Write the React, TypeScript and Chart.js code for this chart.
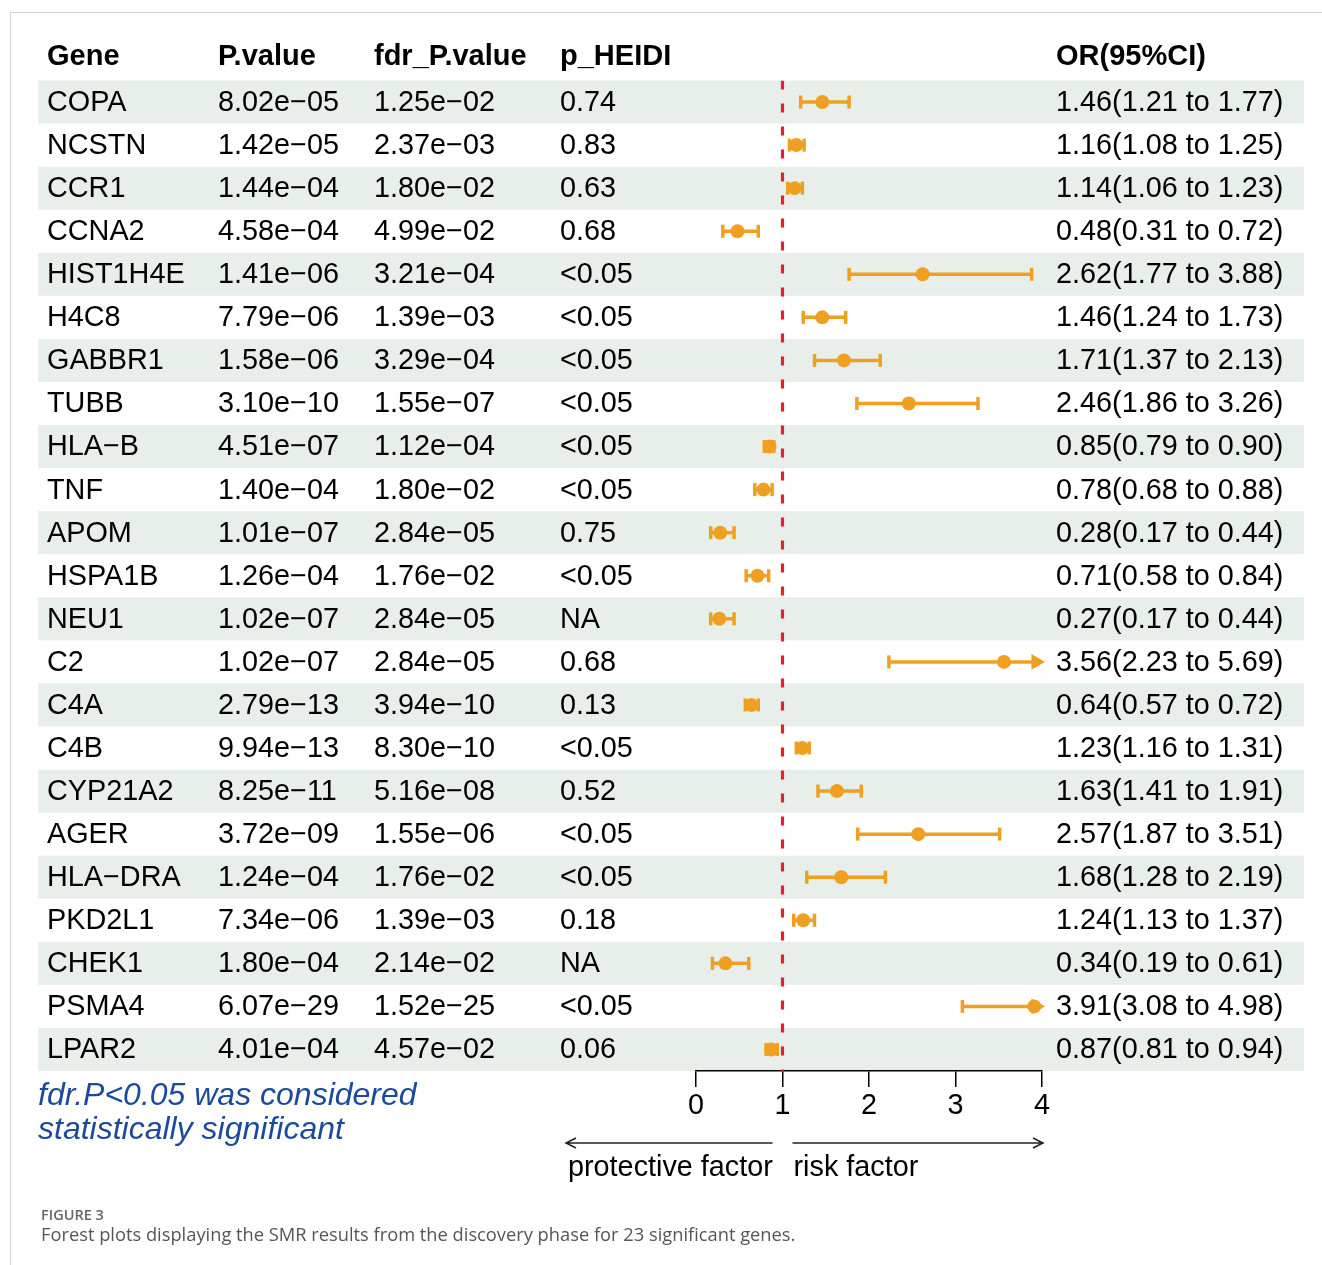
import React, { useEffect, useRef } from "react";
import { Chart, registerables } from "chart.js";

Chart.register(...registerables);

// ---------------- data ----------------
const genes = [
  "COPA", "NCSTN", "CCR1", "CCNA2", "HIST1H4E", "H4C8", "GABBR1", "TUBB",
  "HLA-B", "TNF", "APOM", "HSPA1B", "NEU1", "C2", "C4A", "C4B", "CYP21A2",
  "AGER", "HLA-DRA", "PKD2L1", "CHEK1", "PSMA4", "LPAR2",
];
const pValues = [
  "8.02e-05", "1.42e-05", "1.44e-04", "4.58e-04", "1.41e-06", "7.79e-06",
  "1.58e-06", "3.10e-10", "4.51e-07", "1.40e-04", "1.01e-07", "1.26e-04",
  "1.02e-07", "1.02e-07", "2.79e-13", "9.94e-13", "8.25e-11", "3.72e-09",
  "1.24e-04", "7.34e-06", "1.80e-04", "6.07e-29", "4.01e-04",
];
const fdrPValues = [
  "1.25e-02", "2.37e-03", "1.80e-02", "4.99e-02", "3.21e-04", "1.39e-03",
  "3.29e-04", "1.55e-07", "1.12e-04", "1.80e-02", "2.84e-05", "1.76e-02",
  "2.84e-05", "2.84e-05", "3.94e-10", "8.30e-10", "5.16e-08", "1.55e-06",
  "1.76e-02", "1.39e-03", "2.14e-02", "1.52e-25", "4.57e-02",
];
const pHeidi = [
  "0.74", "0.83", "0.63", "0.68", "<0.05", "<0.05", "<0.05", "<0.05",
  "<0.05", "<0.05", "0.75", "<0.05", "NA", "0.68", "0.13", "<0.05", "0.52",
  "<0.05", "<0.05", "0.18", "NA", "<0.05", "0.06",
];
const orValues = [
  1.46, 1.16, 1.14, 0.48, 2.62, 1.46, 1.71, 2.46, 0.85, 0.78, 0.28, 0.71,
  0.27, 3.56, 0.64, 1.23, 1.63, 2.57, 1.68, 1.24, 0.34, 3.91, 0.87,
];
const ciLower = [
  1.21, 1.08, 1.06, 0.31, 1.77, 1.24, 1.37, 1.86, 0.79, 0.68, 0.17, 0.58,
  0.17, 2.23, 0.57, 1.16, 1.41, 1.87, 1.28, 1.13, 0.19, 3.08, 0.81,
];
const ciUpper = [
  1.77, 1.25, 1.23, 0.72, 3.88, 1.73, 2.13, 3.26, 0.90, 0.88, 0.44, 0.84,
  0.44, 5.69, 0.72, 1.31, 1.91, 3.51, 2.19, 1.37, 0.61, 4.98, 0.94,
];
const headers = ["Gene", "P.value", "fdr_P.value", "p_HEIDI", "OR(95%CI)"];
const xTickValues = [0, 1, 2, 3, 4];
const refValue = 1;
const noteLines = ["fdr.P<0.05 was considered", "statistically significant"];
const directionLabels = ["protective factor", "risk factor"];

// ---------------- style ----------------
const X_MIN = xTickValues[0];
const X_MAX = xTickValues[xTickValues.length - 1];
const ORANGE = "#F0A020";
const RED = "#E3202C";
const STRIPE = "#E8EFEB";
const FONT = "'Liberation Sans', Arial, Helvetica, sans-serif";
const W = 1322;
const H = 1265;
const colX = [47, 218, 374, 560, 1056];
const ARROW_BACK = 0.07;
const ROW_FONT = 28.8;

const mm = (s: string) => s.replace(/-/g, "\u2212");

const tablePlugin = {
  id: "forestTable",
  beforeDraw(chart: any) {
    const { ctx } = chart;
    const y = chart.scales.y;
    ctx.save();
    ctx.fillStyle = STRIPE;
    genes.forEach((_, i) => {
      if (i % 2 === 0) {
        const t = y.getPixelForValue(i - 0.5);
        const b = y.getPixelForValue(i + 0.5);
        ctx.fillRect(38, t, 1304 - 38, b - t);
      }
    });
    ctx.restore();
  },
  afterDraw(chart: any) {
    const { ctx } = chart;
    const y = chart.scales.y;
    const x = chart.scales.x;
    ctx.save();
    ctx.textBaseline = "middle";
    ctx.textAlign = "left";
    ctx.fillStyle = "#000";
    // header
    ctx.font = `bold 29px ${FONT}`;
    const hy = y.getPixelForValue(-1) - 2;
    headers.forEach((h, c) => ctx.fillText(h, colX[c], hy));
    // rows
    ctx.font = `${ROW_FONT}px ${FONT}`;
    genes.forEach((g, i) => {
      const py = y.getPixelForValue(i) + 1;
      const orText = `${orValues[i].toFixed(2)}(${ciLower[i].toFixed(2)} to ${ciUpper[i].toFixed(2)})`;
      const cells = [mm(g), mm(pValues[i]), mm(fdrPValues[i]), pHeidi[i], orText];
      cells.forEach((t, c) => ctx.fillText(t, colX[c], py));
    });
    // note
    ctx.fillStyle = "#1B4A9C";
    ctx.font = `italic 32px ${FONT}`;
    ctx.fillText(noteLines[0], 38, 1096);
    ctx.fillText(noteLines[1], 38, 1130);
    // direction arrows
    const x1 = x.getPixelForValue(refValue);
    const xEnd = x.getPixelForValue(X_MAX) + 1;
    const ay = 1143;
    ctx.strokeStyle = "#222";
    ctx.lineWidth = 1.5;
    ctx.beginPath();
    ctx.moveTo(x1 - 10, ay);
    ctx.lineTo(566, ay);
    ctx.moveTo(566 + 10, ay - 5);
    ctx.lineTo(566, ay);
    ctx.lineTo(566 + 10, ay + 5);
    ctx.moveTo(x1 + 10, ay);
    ctx.lineTo(xEnd, ay);
    ctx.moveTo(xEnd - 10, ay - 5);
    ctx.lineTo(xEnd, ay);
    ctx.lineTo(xEnd - 10, ay + 5);
    ctx.stroke();
    ctx.fillStyle = "#000";
    ctx.font = `${ROW_FONT}px ${FONT}`;
    ctx.fillText(directionLabels[0], 568, 1168);
    ctx.fillText(directionLabels[1], x1 + 11, 1168);
    ctx.restore();
  },
};

export default function App() {
  const ref = useRef<HTMLCanvasElement | null>(null);

  useEffect(() => {
    if (!ref.current) return;
    const ciLines = genes.map((_, i) => ({
      type: "scatter" as const,
      showLine: true,
      data: [
        { x: ciLower[i], y: i },
        { x: Math.min(ciUpper[i], X_MAX), y: i },
      ],
      borderColor: ORANGE,
      borderWidth: 3.5,
      pointRadius: 0,
      clip: false as any,
    }));
    const caps: { x: number; y: number }[] = [];
    genes.forEach((_, i) => {
      caps.push({ x: ciLower[i], y: i });
      if (ciUpper[i] <= X_MAX) caps.push({ x: ciUpper[i], y: i });
    });
    const arrows = genes
      .map((_, i) => (ciUpper[i] > X_MAX ? { x: X_MAX - ARROW_BACK, y: i } : null))
      .filter(Boolean) as { x: number; y: number }[];

    const chart = new Chart(ref.current, {
      type: "scatter",
      data: {
        datasets: [
          {
            data: [
              { x: refValue, y: -0.5 },
              { x: refValue, y: genes.length - 0.5 },
            ],
            showLine: true,
            borderColor: RED,
            borderWidth: 3.2,
            borderDash: [9, 14],
            pointRadius: 0,
          } as any,
          ...ciLines,
          {
            data: caps,
            pointStyle: "line",
            rotation: 90,
            radius: 6.5,
            borderWidth: 3.5,
            borderColor: ORANGE,
            backgroundColor: ORANGE,
            clip: false,
          } as any,
          {
            data: arrows,
            pointStyle: "triangle",
            rotation: 90,
            radius: 9,
            borderWidth: 0,
            backgroundColor: ORANGE,
            clip: false,
          } as any,
          {
            data: orValues.map((v, i) => ({ x: v, y: i })),
            pointStyle: "circle",
            radius: 7,
            borderWidth: 0,
            backgroundColor: ORANGE,
            clip: false,
          } as any,
        ],
      },
      options: {
        responsive: false,
        animation: false,
        devicePixelRatio: 1,
        layout: { padding: { left: 696, right: W - 1042, top: 80.5, bottom: 134 } },
        plugins: { legend: { display: false }, tooltip: { enabled: false } },
        scales: {
          x: {
            type: "linear",
            min: X_MIN,
            max: X_MAX,
            afterBuildTicks: (s: any) => {
              s.ticks = xTickValues.map((v) => ({ value: v }));
            },
            afterFit: (s: any) => {
              s.height = 60;
            },
            grid: {
              drawOnChartArea: false,
              drawTicks: true,
              tickLength: 16,
              color: "#000",
              lineWidth: 1.5,
            },
            border: { display: true, color: "#000", width: 1.5 },
            ticks: {
              color: "#000",
              font: { family: FONT, size: ROW_FONT },
              padding: 2,
              maxRotation: 0,
            },
          },
          y: {
            type: "linear",
            min: -0.5,
            max: genes.length - 0.5,
            reverse: true,
            display: false,
          },
        },
      } as any,
      plugins: [tablePlugin],
    });
    return () => chart.destroy();
  }, []);

  return (
    <div style={{ position: "absolute", left: 0, top: 0, width: W, height: H, background: "#fff", overflow: "hidden" }}>
      <div
        style={{
          position: "absolute",
          left: 10,
          top: 12,
          width: W - 10,
          height: H - 12,
          borderTop: "1.5px solid #d4d4d4",
          borderLeft: "1.5px solid #d4d4d4",
          boxSizing: "border-box",
        }}
      />
      <canvas ref={ref} width={W} height={H} style={{ position: "absolute", left: 0, top: 0, width: W, height: H }} />
      <div
        style={{
          position: "absolute",
          left: 41,
          top: 1205,
          fontFamily: "'Open Sans', 'Noto Sans', sans-serif",
          fontWeight: 600,
          fontSize: 14.5,
          color: "#666",
          lineHeight: "20px",
        }}
      >
        FIGURE 3
      </div>
      <div
        style={{
          position: "absolute",
          left: 41,
          top: 1222,
          fontFamily: "'Open Sans', 'Noto Sans', sans-serif",
          fontSize: 18.3,
          color: "#555",
          lineHeight: "24px",
          whiteSpace: "nowrap",
        }}
      >
        Forest plots displaying the SMR results from the discovery phase for 23 significant genes.
      </div>
    </div>
  );
}
